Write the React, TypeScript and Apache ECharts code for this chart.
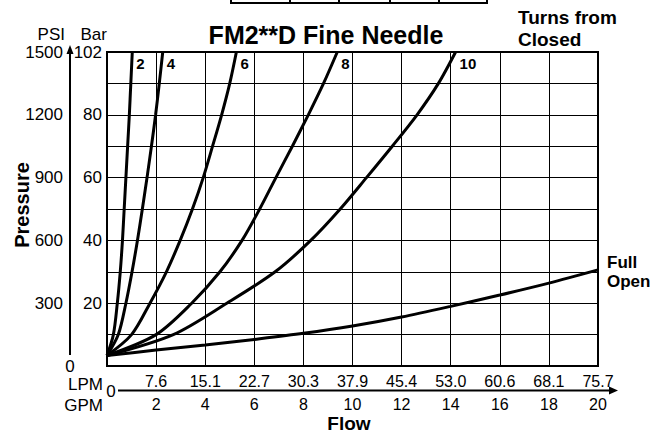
import React, { useEffect, useRef } from "react";
import * as echarts from "echarts";

const FONT = '"Liberation Sans", Arial, Helvetica, sans-serif';

// Flow (GPM) vs pressure (PSI) for each setting
const curve2 = [[0, 50], [0.26, 150], [0.42, 300], [0.54, 450], [0.63, 600], [0.7, 750], [0.77, 900], [0.84, 1050], [0.91, 1200], [0.97, 1350], [1.03, 1500]];
const curve4 = [[0, 50], [0.46, 150], [0.77, 300], [1.02, 450], [1.24, 600], [1.44, 750], [1.63, 900], [1.81, 1050], [1.98, 1200], [2.13, 1350], [2.27, 1500]];
const curve6 = [[0, 50], [1.0, 150], [1.75, 300], [2.42, 450], [2.98, 600], [3.48, 750], [3.92, 900], [4.3, 1050], [4.67, 1200], [5.0, 1350], [5.27, 1500]];
const curve8 = [[0, 50], [2.0, 150], [3.45, 300], [4.6, 450], [5.5, 600], [6.22, 750], [6.88, 900], [7.55, 1050], [8.2, 1200], [8.82, 1350], [9.38, 1500]];
const curve10 = [[0, 50], [2.7, 150], [4.88, 300], [6.85, 450], [8.3, 600], [9.5, 750], [10.57, 900], [11.62, 1050], [12.63, 1200], [13.5, 1350], [14.2, 1500]];
const fullOpen = [[0, 50], [2, 76], [4, 100], [6, 127], [8, 156], [10, 191], [12, 234], [14, 285], [16, 339], [18, 396], [20, 459]];

const curveNames = ["2", "4", "6", "8", "10"];
const curveData = [curve2, curve4, curve6, curve8, curve10];

// Tick labels
const lpmLabels = ["7.6", "15.1", "22.7", "30.3", "37.9", "45.4", "53.0", "60.6", "68.1", "75.7"];
const psiTicks = [300, 600, 900, 1200, 1500];
const barLabels = ["20", "40", "60", "80", "102"];

export default function App() {
  const ref = useRef<HTMLDivElement>(null);

  useEffect(() => {
    if (!ref.current) return;
    const chart = echarts.init(ref.current, null, { renderer: "svg" });

    const textBase = { fontFamily: FONT, fill: "#000" };

    const curveSeries = curveData.map((d, i) => ({
      type: "line",
      name: curveNames[i],
      data: d,
      xAxisIndex: 0,
      yAxisIndex: 0,
      smooth: 0.3,
      showSymbol: false,
      symbol: "none",
      lineStyle: { color: "#000", width: 3 },
      markPoint: {
        silent: true,
        symbol: "circle",
        symbolSize: 0,
        data: [
          {
            coord: d[d.length - 1],
            label: {
              show: true,
              position: "right",
              distance: 4,
              offset: [0, 11],
              formatter: curveNames[i],
              fontFamily: FONT,
              fontSize: 15,
              fontWeight: "bold",
              color: "#000",
            },
          },
        ],
      },
    }));

    const option = {
      animation: false,
      backgroundColor: "#fff",
      grid: {
        left: 107,
        top: 52,
        width: 491,
        height: 314,
        show: true,
        borderColor: "#000",
        borderWidth: 2,
        backgroundColor: "transparent",
      },
      xAxis: [
        {
          type: "value",
          min: 0,
          max: 20,
          interval: 2,
          position: "bottom",
          offset: 24,
          axisLine: { show: false },
          axisTick: { show: false },
          axisLabel: {
            margin: 6,
            fontFamily: FONT,
            fontSize: 16,
            color: "#000",
            formatter: (v: number) => (v === 0 ? "" : String(v)),
          },
          splitLine: { show: true, lineStyle: { color: "#000", width: 1 } },
        },
        {
          type: "value",
          min: 0,
          max: 20,
          interval: 2,
          position: "bottom",
          offset: 0,
          axisLine: { show: false },
          axisTick: { show: false },
          axisLabel: {
            margin: 7,
            fontFamily: FONT,
            fontSize: 16,
            color: "#000",
            formatter: (v: number) => (v === 0 ? "" : lpmLabels[Math.round(v / 2) - 1] || ""),
          },
          splitLine: { show: false },
        },
      ],
      yAxis: [
        {
          type: "value",
          min: 0,
          max: 1500,
          interval: 150,
          position: "left",
          offset: 0,
          axisLine: { show: false },
          axisTick: { show: false },
          axisLabel: {
            margin: 5,
            fontFamily: FONT,
            fontSize: 17,
            color: "#000",
            formatter: (v: number) => {
              const k = psiTicks.indexOf(v);
              return k >= 0 ? barLabels[k] : "";
            },
          },
          splitLine: { show: true, lineStyle: { color: "#000", width: 1 } },
        },
        {
          type: "value",
          min: 0,
          max: 1500,
          interval: 150,
          position: "left",
          offset: 37,
          axisLine: { show: false },
          axisTick: { show: false },
          axisLabel: {
            margin: 7,
            fontFamily: FONT,
            fontSize: 17,
            color: "#000",
            formatter: (v: number) => (psiTicks.indexOf(v) >= 0 ? String(v) : ""),
          },
          splitLine: { show: false },
        },
      ],
      series: [
        ...curveSeries,
        {
          type: "line",
          name: "Full Open",
          data: fullOpen,
          xAxisIndex: 0,
          yAxisIndex: 0,
          smooth: 0.3,
          showSymbol: false,
          symbol: "none",
          lineStyle: { color: "#000", width: 3 },
          markPoint: {
            silent: true,
            symbol: "circle",
            symbolSize: 0,
            data: [
              {
                coord: fullOpen[fullOpen.length - 1],
                label: {
                  show: true,
                  position: "right",
                  distance: 9,
                  offset: [0, 2],
                  formatter: "Full\nOpen",
                  fontFamily: FONT,
                  fontSize: 17,
                  fontWeight: "bold",
                  lineHeight: 19,
                  color: "#000",
                },
              },
            ],
          },
        },
      ],
      graphic: [
        // partial table at top
        { type: "line", shape: { x1: 230, y1: 3, x2: 488, y2: 3 }, style: { stroke: "#000", lineWidth: 2 } },
        ...[231, 290, 339, 390, 439, 487].map((x) => ({
          type: "line",
          shape: { x1: x, y1: 0, x2: x, y2: 4 },
          style: { stroke: "#000", lineWidth: 2 },
        })),
        // left pressure arrow
        { type: "line", shape: { x1: 70, y1: 53, x2: 70, y2: 355 }, style: { stroke: "#000", lineWidth: 2 } },
        { type: "polygon", shape: { points: [[70, 45], [66.5, 54], [73.5, 54]] }, style: { fill: "#000" } },
        // bottom flow arrow
        { type: "line", shape: { x1: 118, y1: 390.5, x2: 611, y2: 390.5 }, style: { stroke: "#000", lineWidth: 2 } },
        { type: "polygon", shape: { points: [[618, 390.5], [609, 386.5], [609, 394.5]] }, style: { fill: "#000" } },
        // texts
        { type: "text", x: 326, y: 35, style: { ...textBase, text: "FM2**D Fine Needle", fontSize: 25, fontWeight: "bold", align: "center", verticalAlign: "middle" } },
        { type: "text", x: 518, y: 17, style: { ...textBase, text: "Turns from", fontSize: 19, fontWeight: "bold", align: "left", verticalAlign: "middle" } },
        { type: "text", x: 518, y: 39, style: { ...textBase, text: "Closed", fontSize: 19, fontWeight: "bold", align: "left", verticalAlign: "middle" } },
        { type: "text", x: 65, y: 34, style: { ...textBase, text: "PSI", fontSize: 17, align: "right", verticalAlign: "middle" } },
        { type: "text", x: 107, y: 34, style: { ...textBase, text: "Bar", fontSize: 17, align: "right", verticalAlign: "middle" } },
        { type: "text", x: 70, y: 366, style: { ...textBase, text: "0", fontSize: 17, align: "center", verticalAlign: "middle" } },
        { type: "text", x: 111, y: 391, style: { ...textBase, text: "0", fontSize: 17, align: "center", verticalAlign: "middle" } },
        { type: "text", x: 103, y: 384, style: { ...textBase, text: "LPM", fontSize: 17, align: "right", verticalAlign: "middle" } },
        { type: "text", x: 103, y: 405, style: { ...textBase, text: "GPM", fontSize: 17, align: "right", verticalAlign: "middle" } },
        { type: "text", x: 349, y: 423, style: { ...textBase, text: "Flow", fontSize: 19, fontWeight: "bold", align: "center", verticalAlign: "middle" } },
        { type: "text", x: 22, y: 205, rotation: Math.PI / 2, style: { ...textBase, text: "Pressure", fontSize: 20, fontWeight: "bold", align: "center", verticalAlign: "middle" } },
      ],
    };

    chart.setOption(option as any);
    return () => chart.dispose();
  }, []);

  return (
    <div
      ref={ref}
      style={{ position: "absolute", left: 0, top: 0, width: 654, height: 434, background: "#fff" }}
    />
  );
}
